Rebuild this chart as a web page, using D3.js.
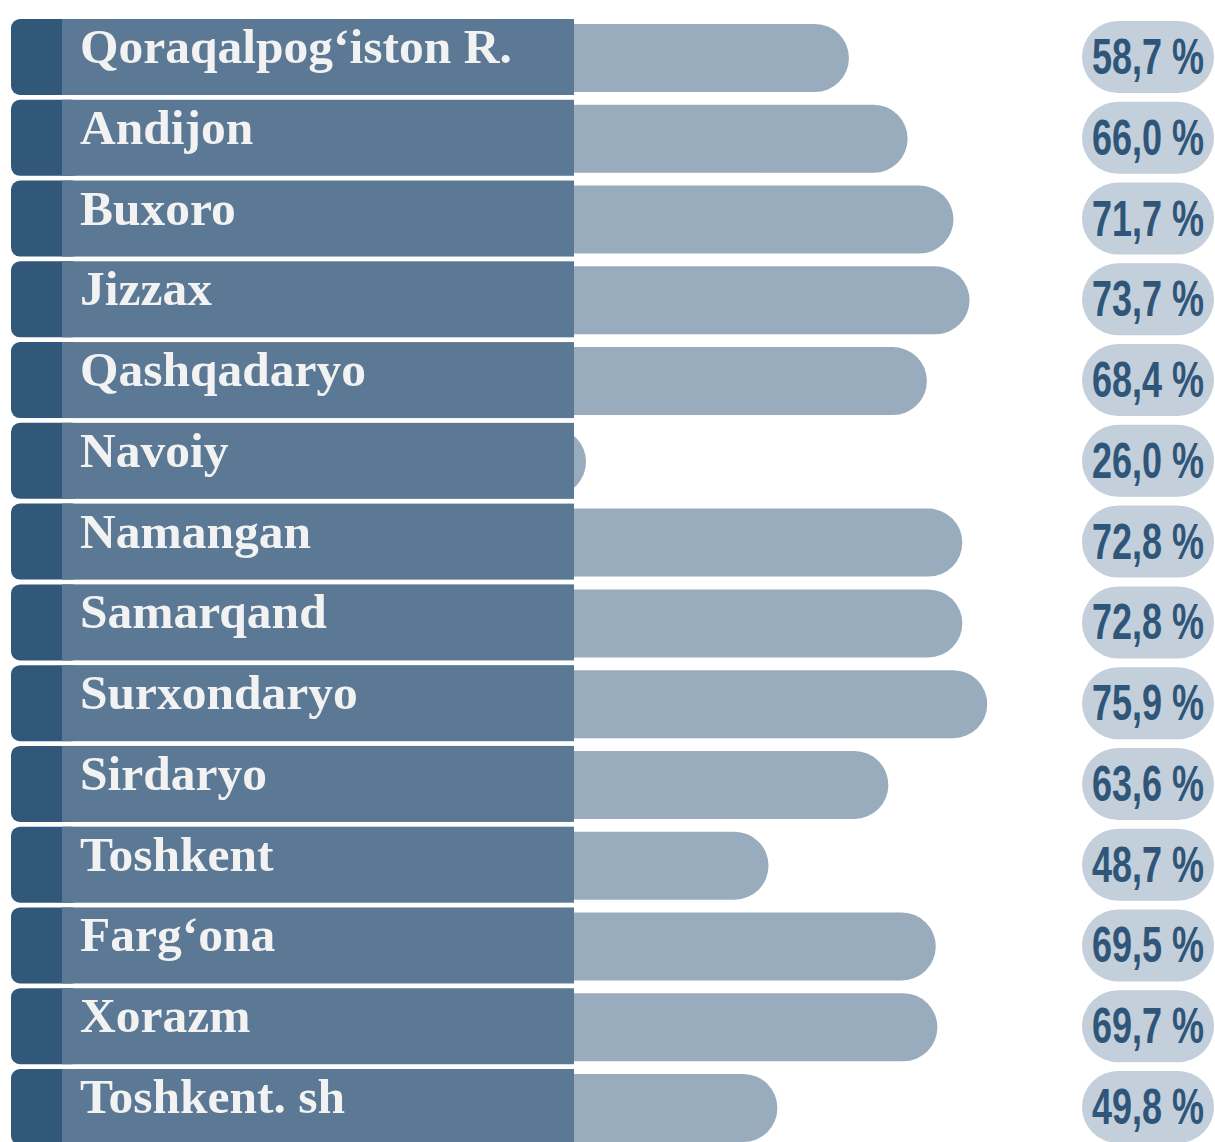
<!DOCTYPE html>
<html>
<head>
<meta charset="utf-8">
<script src="https://cdn.jsdelivr.net/npm/d3@7"></script>
<style>
  body { margin: 0; background: #fff; }
  svg { display: block; }
</style>
</head>
<body>
<div id="chart"></div>
<script>
// regions and share values (%), top to bottom
const regions = ["Qoraqalpog‘iston R.", "Andijon", "Buxoro", "Jizzax", "Qashqadaryo", "Navoiy",
    "Namangan", "Samarqand", "Surxondaryo", "Sirdaryo", "Toshkent", "Farg‘ona", "Xorazm", "Toshkent. sh"];
const shares = [58.7, 66.0, 71.7, 73.7, 68.4, 26.0, 72.8, 72.8, 75.9, 63.6, 48.7, 69.5, 69.7, 49.8];

const width = 1215, height = 1142;
const rows = regions.map((name, i) => ({ name: name, value: shares[i] }));

const svg = d3.select("#chart")
    .append("svg")
    .attr("width", width)
    .attr("height", height);

const y = d3.scaleBand()
    .domain(regions)
    .range([19, 1145])
    .paddingInner(0.059)
    .paddingOuter(0);

// bars run out from under the label block
const x = d3.scaleLinear()
    .domain([0, 100])
    .range([377, 1181]);

const uz = d3.formatLocale({ decimal: ",", thousands: " ", grouping: [3], currency: ["", ""] });
const fmt = uz.format(".1f");

const barH = 68;
const blockLeft = 11, stripRight = 62, blockRight = 574;

// light bars
svg.append("g")
    .selectAll("rect")
    .data(rows)
    .join("rect")
    .attr("x", x(0))
    .attr("y", d => y(d.name) + y.bandwidth() / 2 - barH / 2 + 1)
    .attr("width", d => x(d.value) - x(0))
    .attr("height", barH)
    .attr("rx", barH / 2)
    .attr("fill", "#99acbd");

// label blocks
const blocks = svg.append("g")
    .selectAll("g")
    .data(rows)
    .join("g")
    .attr("transform", d => `translate(0,${y(d.name)})`);

blocks.append("rect")
    .attr("x", blockLeft)
    .attr("width", 70)
    .attr("height", y.bandwidth())
    .attr("rx", 9)
    .attr("fill", "#315779");

blocks.append("rect")
    .attr("x", stripRight)
    .attr("width", blockRight - stripRight)
    .attr("height", y.bandwidth())
    .attr("fill", "#5b7894");

blocks.append("text")
    .attr("x", 80)
    .attr("y", 44)
    .attr("fill", "#f2f2f2")
    .style("font-family", "'Liberation Serif', 'DejaVu Serif', serif")
    .style("font-weight", "bold")
    .style("font-size", "49.5px")
    .text(d => d.name);

// percentage pills
const pills = svg.append("g")
    .selectAll("g")
    .data(rows)
    .join("g")
    .attr("transform", d => `translate(1082,${y(d.name) + y.bandwidth() / 2})`);

pills.append("rect")
    .attr("x", 0)
    .attr("y", -36)
    .attr("width", 132)
    .attr("height", 72)
    .attr("rx", 36)
    .attr("fill", "#c3cfdb");

// condensed look: squeeze a bold sans horizontally
pills.append("text")
    .attr("transform", "translate(66,17) scale(0.72,1)")
    .attr("text-anchor", "middle")
    .attr("fill", "#2f5679")
    .style("font-family", "'Liberation Sans', Arial, sans-serif")
    .style("font-weight", "bold")
    .style("font-size", "50px")
    .text(d => fmt(d.value) + " %");
</script>
</body>
</html>
